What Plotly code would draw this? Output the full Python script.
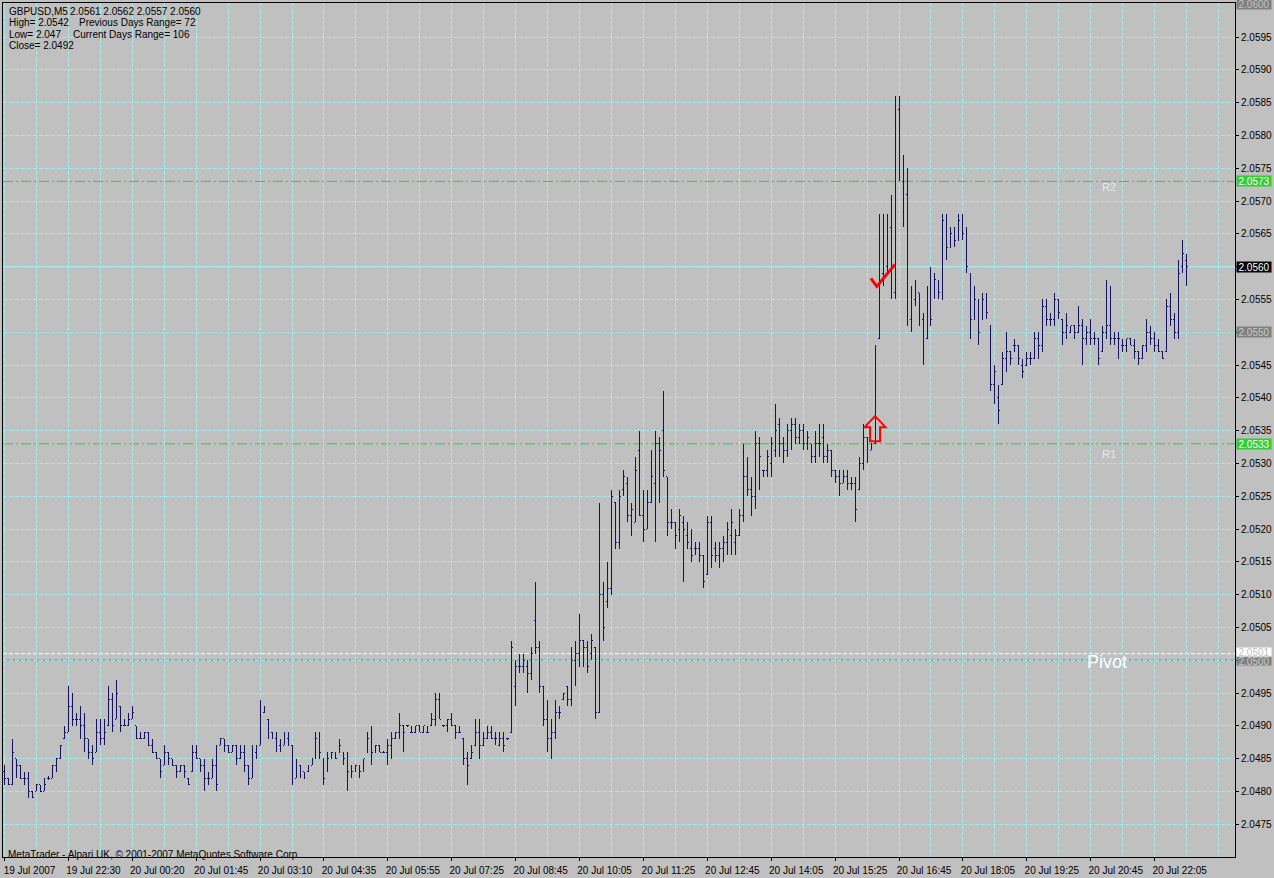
import plotly.graph_objects as go

# ---------------- data (GBPUSD, M5) ----------------
bar_high = [
    2.0484, 2.0482, 2.0488, 2.0485, 2.0484, 2.0483, 2.0483, 2.0480, 2.0481, 2.0481,
    2.0482, 2.04823, 2.0484, 2.0485, 2.0487, 2.0490, 2.0496, 2.0495, 2.0492, 2.0493,
    2.0492, 2.0488, 2.0487, 2.0491, 2.0491, 2.0491, 2.0496, 2.0495, 2.0497, 2.0493,
    2.0491, 2.0492, 2.0493, 2.0490, 2.0489, 2.0489, 2.0489, 2.0488, 2.0486, 2.0485,
    2.0487, 2.0486, 2.0485, 2.0484, 2.0484, 2.0484, 2.0482, 2.0487, 2.0487, 2.0485,
    2.0485, 2.0483, 2.0485, 2.0487, 2.0488, 2.0488, 2.0487, 2.0487, 2.0487, 2.0487,
    2.0487, 2.0484, 2.0487, 2.0487, 2.0494, 2.0493, 2.0491, 2.0489, 2.0489, 2.0488,
    2.0489, 2.0489, 2.0487, 2.0485, 2.0484, 2.0483, 2.0484, 2.0485, 2.0489, 2.0489,
    2.0485, 2.0486, 2.0486, 2.0486, 2.0488, 2.0486, 2.0486, 2.0484, 2.0484, 2.0484,
    2.0485, 2.0489, 2.0490, 2.0487, 2.0487, 2.04862, 2.0488, 2.0489, 2.0489, 2.0492,
    2.0490, 2.04902, 2.0490, 2.0490, 2.0490, 2.0490, 2.0490, 2.0492, 2.0495, 2.0495,
    2.04902, 2.0491, 2.0492, 2.0490, 2.0490, 2.0488, 2.0486, 2.0487, 2.0491, 2.0491,
    2.0489, 2.0490, 2.0490, 2.0489, 2.0489, 2.0489, 2.04882, 2.0503, 2.0500, 2.0501,
    2.0501, 2.0500, 2.0502, 2.0512, 2.0503, 2.0496, 2.0494, 2.0491, 2.0494, 2.0493,
    2.0495, 2.0496, 2.0502, 2.0503, 2.0507, 2.0503, 2.0503, 2.0504, 2.0502, 2.0524,
    2.0512, 2.0515, 2.0526, 2.0524, 2.0526, 2.0529, 2.0528, 2.0524, 2.0531, 2.0535,
    2.0526, 2.0526, 2.0532, 2.0535, 2.0534, 2.0541, 2.0528, 2.0523, 2.0521, 2.0523,
    2.0522, 2.0521, 2.0520, 2.0518, 2.0518, 2.0516, 2.0522, 2.0522, 2.0518, 2.0518,
    2.0519, 2.0521, 2.0523, 2.0520, 2.0523, 2.0533, 2.0531, 2.0528, 2.0535, 2.0534,
    2.0529, 2.0532, 2.0534, 2.0539, 2.0537, 2.0534, 2.0536, 2.0537, 2.0537, 2.0536,
    2.0536, 2.0535, 2.0533, 2.0535, 2.0536, 2.0536, 2.0533, 2.0532, 2.0529, 2.0529,
    2.0529, 2.0529, 2.0528, 2.0528, 2.0531, 2.0536, 2.0534, 2.0533, 2.0548, 2.0568,
    2.0568, 2.0568, 2.0571, 2.0586, 2.0586, 2.0577, 2.0575, 2.0557, 2.0558, 2.0556,
    2.0553, 2.0557, 2.0560, 2.0559, 2.0558, 2.0568, 2.0568, 2.0566, 2.0566, 2.0568,
    2.0568, 2.0566, 2.0559, 2.0557, 2.0555, 2.0556, 2.0556, 2.0551, 2.0545, 2.0542,
    2.0547, 2.0550, 2.0547, 2.0549, 2.0548, 2.0546, 2.0547, 2.0547, 2.0550, 2.0550,
    2.0555, 2.0555, 2.0553, 2.0556, 2.0555, 2.0552, 2.0553, 2.0551, 2.0551, 2.0554,
    2.0552, 2.0551, 2.0552, 2.0550, 2.0549, 2.0551, 2.0558, 2.0557, 2.0550, 2.0550,
    2.0549, 2.0549, 2.0549, 2.0549, 2.0547, 2.0548, 2.0552, 2.0551, 2.0550, 2.0549,
    2.0547, 2.0555, 2.0556, 2.0553, 2.0561, 2.0564, 2.0562,
]

bar_low = [
    2.0481, 2.0481, 2.0481, 2.0482, 2.0482, 2.0481, 2.0479, 2.0479, 2.0480, 2.0480,
    2.0480, 2.04818, 2.0482, 2.0483, 2.0485, 2.0488, 2.0489, 2.0490, 2.0490, 2.0488,
    2.0486, 2.0485, 2.0484, 2.0486, 2.0487, 2.0487, 2.0490, 2.0489, 2.0491, 2.0489,
    2.0490, 2.0490, 2.0491, 2.0488, 2.0488, 2.0488, 2.0487, 2.0486, 2.0485, 2.0482,
    2.0484, 2.0484, 2.0484, 2.0482, 2.0483, 2.0482, 2.0481, 2.0483, 2.0485, 2.0483,
    2.0480, 2.0481, 2.0482, 2.0480, 2.0487, 2.0486, 2.0486, 2.0486, 2.0484, 2.0485,
    2.0483, 2.0481, 2.0482, 2.0485, 2.0487, 2.0492, 2.0488, 2.0488, 2.0486, 2.0486,
    2.0487, 2.0487, 2.0481, 2.0482, 2.0482, 2.0482, 2.0483, 2.0484, 2.0485, 2.0485,
    2.0481, 2.0483, 2.0485, 2.0485, 2.0486, 2.0484, 2.0480, 2.0482, 2.0483, 2.0482,
    2.0483, 2.0486, 2.0484, 2.0486, 2.0486, 2.04858, 2.0484, 2.0485, 2.0488, 2.0488,
    2.0486, 2.04898, 2.0489, 2.0489, 2.0489, 2.0489, 2.0489, 2.0490, 2.0490, 2.0491,
    2.04898, 2.0489, 2.0490, 2.0488, 2.0489, 2.0484, 2.0481, 2.0485, 2.0487, 2.0485,
    2.0487, 2.0488, 2.0488, 2.0487, 2.0487, 2.0486, 2.04878, 2.0489, 2.0493, 2.0498,
    2.0498, 2.0495, 2.0497, 2.0501, 2.0495, 2.0490, 2.0486, 2.0485, 2.0488, 2.0491,
    2.0494, 2.0493, 2.0493, 2.0496, 2.0499, 2.0499, 2.0498, 2.0500, 2.0491, 2.0492,
    2.0503, 2.0508, 2.0510, 2.0517, 2.0517, 2.0525, 2.0521, 2.0519, 2.0521, 2.0522,
    2.0518, 2.0520, 2.0524, 2.0518, 2.0524, 2.0528, 2.0519, 2.0520, 2.0517, 2.0518,
    2.0512, 2.0517, 2.0515, 2.0516, 2.0515, 2.0511, 2.0513, 2.0514, 2.0515, 2.0514,
    2.0515, 2.0516, 2.0516, 2.0516, 2.0519, 2.0521, 2.0525, 2.0522, 2.0523, 2.0526,
    2.0528, 2.0528, 2.0528, 2.0531, 2.0531, 2.0530, 2.0531, 2.0532, 2.0533, 2.0533,
    2.0532, 2.0532, 2.0530, 2.0530, 2.0531, 2.0530, 2.0530, 2.0528, 2.0527, 2.0525,
    2.0527, 2.0526, 2.0526, 2.0521, 2.0526, 2.0529, 2.0530, 2.0532, 2.0533, 2.0549,
    2.0557, 2.0559, 2.0555, 2.0555, 2.0573, 2.0566, 2.0551, 2.0550, 2.0554, 2.0551,
    2.0545, 2.0549, 2.0551, 2.0555, 2.0555, 2.0555, 2.0561, 2.0563, 2.0563, 2.0564,
    2.0564, 2.0559, 2.0549, 2.0552, 2.0548, 2.0552, 2.0552, 2.0541, 2.0539, 2.0536,
    2.0542, 2.0544, 2.0545, 2.0547, 2.0545, 2.0543, 2.0545, 2.0545, 2.0546, 2.0546,
    2.0547, 2.0551, 2.0551, 2.0551, 2.0552, 2.0548, 2.0549, 2.0550, 2.0549, 2.0550,
    2.0545, 2.0548, 2.0548, 2.0548, 2.0545, 2.0547, 2.0549, 2.0548, 2.0548, 2.0546,
    2.0547, 2.0547, 2.0548, 2.0546, 2.0545, 2.0546, 2.0547, 2.0548, 2.0547, 2.0547,
    2.0546, 2.0547, 2.0551, 2.0549, 2.0549, 2.0559, 2.0557,
]

bar_open = [
    2.0483, 2.0482, 2.0481, 2.0485, 2.0484, 2.0482, 2.0482, 2.0480, 2.0480, 2.0481,
    2.0480, 2.0482, 2.0482, 2.0484, 2.0485, 2.0488, 2.0489, 2.0493, 2.0491, 2.0491,
    2.0490, 2.0488, 2.0486, 2.0486, 2.0489, 2.0488, 2.0490, 2.0494, 2.0491, 2.0493,
    2.0490, 2.0490, 2.0491, 2.0490, 2.0488, 2.0488, 2.0489, 2.0487, 2.0486, 2.0485,
    2.0484, 2.0486, 2.0485, 2.0484, 2.0483, 2.0484, 2.0482, 2.0483, 2.0486, 2.0485,
    2.0484, 2.0482, 2.0482, 2.0484, 2.0487, 2.0488, 2.0487, 2.0486, 2.0487, 2.0485,
    2.0486, 2.0484, 2.0482, 2.0486, 2.0487, 2.0492, 2.0491, 2.0489, 2.0488, 2.0487,
    2.0487, 2.0488, 2.0487, 2.0482, 2.0484, 2.0483, 2.0483, 2.0484, 2.0485, 2.0488,
    2.0485, 2.0483, 2.0485, 2.0486, 2.0486, 2.0486, 2.0485, 2.0483, 2.0483, 2.0484,
    2.0483, 2.0486, 2.0488, 2.0486, 2.0487, 2.0486, 2.0486, 2.0487, 2.0488, 2.0489,
    2.0490, 2.0490, 2.0489, 2.0489, 2.0490, 2.0489, 2.0489, 2.0490, 2.0491, 2.0494,
    2.0490, 2.0490, 2.0491, 2.0490, 2.0489, 2.0488, 2.0485, 2.0485, 2.0487, 2.0489,
    2.0487, 2.0488, 2.0489, 2.0488, 2.0487, 2.0488, 2.0488, 2.0489, 2.0496, 2.0499,
    2.0499, 2.0499, 2.0498, 2.0506, 2.0502, 2.0496, 2.0491, 2.0488, 2.0489, 2.0492,
    2.0494, 2.0496, 2.0494, 2.0500, 2.0501, 2.0503, 2.0502, 2.0501, 2.0502, 2.0492,
    2.0510, 2.0509, 2.0511, 2.0524, 2.0518, 2.0526, 2.0527, 2.0522, 2.0521, 2.0532,
    2.0522, 2.0520, 2.0524, 2.0527, 2.0533, 2.0535, 2.0528, 2.0521, 2.0521, 2.0520,
    2.0521, 2.0519, 2.0517, 2.0517, 2.0517, 2.0516, 2.0513, 2.0521, 2.0517, 2.0516,
    2.0517, 2.0518, 2.0519, 2.0518, 2.0519, 2.0522, 2.0528, 2.0526, 2.0525, 2.0533,
    2.0529, 2.0529, 2.0530, 2.0532, 2.0536, 2.0533, 2.0532, 2.0535, 2.0536, 2.0534,
    2.0535, 2.0533, 2.0533, 2.0531, 2.0533, 2.0534, 2.0531, 2.0532, 2.0529, 2.0528,
    2.0527, 2.0528, 2.0527, 2.0527, 2.0526, 2.0530, 2.0534, 2.0532, 2.0533, 2.0549,
    2.0559, 2.0560, 2.0566, 2.0556, 2.0584, 2.0573, 2.0571, 2.0552, 2.0555, 2.0556,
    2.0552, 2.0549, 2.0555, 2.0557, 2.0556, 2.0555, 2.0567, 2.0563, 2.0565, 2.0564,
    2.0567, 2.0565, 2.0559, 2.0552, 2.0555, 2.0552, 2.0554, 2.0551, 2.0542, 2.0540,
    2.0542, 2.0546, 2.0547, 2.0548, 2.0548, 2.0545, 2.0545, 2.0546, 2.0546, 2.0549,
    2.0548, 2.0554, 2.0552, 2.0552, 2.0555, 2.0552, 2.0550, 2.0550, 2.0551, 2.0550,
    2.0551, 2.0549, 2.0550, 2.0549, 2.0549, 2.0547, 2.0550, 2.0551, 2.0549, 2.0549,
    2.0548, 2.0548, 2.0549, 2.0548, 2.0547, 2.0546, 2.0548, 2.0550, 2.0549, 2.0548,
    2.0547, 2.0547, 2.0554, 2.0552, 2.0550, 2.0560, 2.0561,
]

bar_close = [
    2.0482, 2.0481, 2.0486, 2.0484, 2.0482, 2.0482, 2.0480, 2.0479, 2.0481, 2.0480,
    2.0481, 2.0482, 2.0484, 2.0485, 2.0487, 2.0489, 2.0493, 2.0491, 2.0491, 2.0490,
    2.0488, 2.0486, 2.0485, 2.0489, 2.0488, 2.0489, 2.0494, 2.0490, 2.0495, 2.0490,
    2.0490, 2.0491, 2.0492, 2.0488, 2.0488, 2.0489, 2.0487, 2.0486, 2.0485, 2.0483,
    2.0486, 2.0485, 2.0484, 2.0483, 2.0484, 2.0483, 2.0481, 2.0486, 2.0485, 2.0484,
    2.0482, 2.0482, 2.0484, 2.0481, 2.0488, 2.0487, 2.0486, 2.0487, 2.0485, 2.0486,
    2.0484, 2.0482, 2.0486, 2.0486, 2.0492, 2.0492, 2.0489, 2.0488, 2.0487, 2.0487,
    2.0488, 2.0487, 2.0482, 2.0484, 2.0483, 2.0482, 2.0484, 2.0485, 2.0488, 2.0486,
    2.0482, 2.0485, 2.0486, 2.0485, 2.0487, 2.0485, 2.0483, 2.0483, 2.0484, 2.0483,
    2.0485, 2.0488, 2.0486, 2.0487, 2.0486, 2.0486, 2.0487, 2.0488, 2.0489, 2.0490,
    2.0489, 2.0490, 2.0489, 2.0490, 2.0489, 2.0490, 2.0489, 2.0491, 2.0494, 2.0491,
    2.0490, 2.0491, 2.0490, 2.0489, 2.0489, 2.0485, 2.0484, 2.0486, 2.0489, 2.0487,
    2.0488, 2.0489, 2.0488, 2.0488, 2.0488, 2.0487, 2.0488, 2.0502, 2.0499, 2.0499,
    2.0500, 2.0498, 2.0501, 2.0502, 2.0496, 2.0491, 2.0488, 2.0489, 2.0492, 2.0492,
    2.0495, 2.0494, 2.0500, 2.0501, 2.0503, 2.0502, 2.0499, 2.0503, 2.0492, 2.0510,
    2.0505, 2.0511, 2.0525, 2.0518, 2.0525, 2.0528, 2.0522, 2.0523, 2.0529, 2.0522,
    2.0520, 2.0524, 2.0528, 2.0533, 2.0532, 2.0529, 2.0521, 2.0521, 2.0519, 2.0522,
    2.0520, 2.0518, 2.0516, 2.0517, 2.0516, 2.0512, 2.0521, 2.0516, 2.0516, 2.0517,
    2.0518, 2.0520, 2.0521, 2.0519, 2.0522, 2.0528, 2.0526, 2.0525, 2.0533, 2.0531,
    2.0529, 2.0531, 2.0533, 2.0535, 2.0533, 2.0532, 2.0535, 2.0536, 2.0534, 2.0535,
    2.0533, 2.0534, 2.0531, 2.0533, 2.0533, 2.0531, 2.0532, 2.0529, 2.0528, 2.0527,
    2.0528, 2.0527, 2.0527, 2.0523, 2.0530, 2.0534, 2.0531, 2.0533, 2.0548, 2.0559,
    2.0560, 2.0565, 2.0556, 2.0584, 2.0574, 2.0571, 2.0552, 2.0555, 2.0556, 2.0553,
    2.0549, 2.0555, 2.0552, 2.0558, 2.0556, 2.0567, 2.0563, 2.0565, 2.0564, 2.0567,
    2.0565, 2.0560, 2.0552, 2.0555, 2.0550, 2.0555, 2.0553, 2.0542, 2.0544, 2.0538,
    2.0546, 2.0547, 2.0546, 2.0548, 2.0546, 2.0544, 2.0546, 2.0546, 2.0549, 2.0548,
    2.0554, 2.0552, 2.0552, 2.0555, 2.0553, 2.0550, 2.0551, 2.0551, 2.0550, 2.0551,
    2.0549, 2.0550, 2.0549, 2.0549, 2.0546, 2.0550, 2.0551, 2.0549, 2.0549, 2.0549,
    2.0548, 2.0549, 2.0548, 2.0547, 2.0546, 2.0548, 2.0550, 2.0549, 2.0548, 2.0547,
    2.0546, 2.0554, 2.0552, 2.0550, 2.0559, 2.0562, 2.0560,
]

time_labels = [
    "19 Jul 2007", "19 Jul 22:30", "20 Jul 00:20", "20 Jul 01:45", "20 Jul 03:10",
    "20 Jul 04:35", "20 Jul 05:55", "20 Jul 07:25", "20 Jul 08:45", "20 Jul 10:05",
    "20 Jul 11:25", "20 Jul 12:45", "20 Jul 14:05", "20 Jul 15:25", "20 Jul 16:45",
    "20 Jul 18:05", "20 Jul 19:25", "20 Jul 20:45", "20 Jul 22:05",
]
label_every = 16   # bars between time labels
grid_every = 8     # bars between vertical grid lines

price_ticks = [
    2.0475, 2.0480, 2.0485, 2.0490, 2.0495, 2.0500, 2.0505, 2.0510, 2.0515,
    2.0520, 2.0525, 2.0530, 2.0535, 2.0540, 2.0545, 2.0550, 2.0555, 2.0560,
    2.0565, 2.0570, 2.0575, 2.0580, 2.0585, 2.0590, 2.0595,
]

level_r2 = 2.0573
level_r1 = 2.0533
level_pivot = 2.0500
level_pivot_mid = 2.0501
level_mid = 2.0550
level_bid = 2.0560
level_top = 2.0600

info_lines = [
    ("GBPUSD,M5", "2.0561 2.0562 2.0557 2.0560"),
    ("High= 2.0542", "Previous Days Range= 72"),
    ("Low= 2.047", "Current Days Range= 106"),
    ("Close= 2.0492", ""),
]

signal_bar = 218      # bar with the arrow / check mark
arrow_price = 2.05334
check_price = 2.05570

# ---------------- style ----------------
FONT = "Liberation Sans"
BG = "#c0c0c0"
GRID = "#a4ecec"
BAR = "#14145e"
W, H = 1274, 878
ML, MR, MT, MB = 2, 38, 2, 17
PW = W - ML - MR
PH = H - MT - MB

n = len(bar_close)
x_idx = list(range(n))

fig = go.Figure(go.Ohlc(
    x=x_idx, open=bar_open, high=bar_high, low=bar_low, close=bar_close,
    increasing=dict(line=dict(color=BAR, width=1)),
    decreasing=dict(line=dict(color=BAR, width=1)),
    tickwidth=0.35, hoverinfo="skip", showlegend=False,
))

tick_idx = [i * label_every for i in range(len(time_labels))]
y_text = ["" if abs(v - level_pivot) < 1e-9 or abs(v - level_mid) < 1e-9 or abs(v - level_bid) < 1e-9
          else f"{v:.4f}" for v in price_ticks]

x0 = -0.375
fig.update_layout(
    width=W, height=H,
    margin=dict(l=ML, r=MR, t=MT, b=MB, pad=0),
    paper_bgcolor=BG, plot_bgcolor=BG,
    font=dict(family=FONT, size=10, color="black"),
    showlegend=False,
    xaxis=dict(
        range=[x0, x0 + PW / 4.0],
        tickmode="array", tickvals=tick_idx, ticktext=time_labels,
        ticks="outside", ticklen=3, tickcolor="black",
        ticklabelshift=25, ticklabelstandoff=1,
        showline=True, linecolor="black", linewidth=1, mirror=True,
        showgrid=True, gridcolor=GRID, griddash="4px,2px", gridwidth=1,
        minor=dict(dtick=grid_every, tick0=0, showgrid=True, gridcolor=GRID,
                   griddash="4px,2px", gridwidth=1, ticks=""),
        zeroline=False, rangeslider=dict(visible=False),
        tickfont=dict(family=FONT, size=10, color="black"),
    ),
    yaxis=dict(
        side="right", range=[2.0470, 2.06002],
        tickmode="array", tickvals=price_ticks, ticktext=y_text,
        ticks="outside", ticklen=3, tickcolor="black",
        showline=True, linecolor="black", linewidth=1, mirror=True,
        showgrid=True, gridcolor=GRID, griddash="4px,2px", gridwidth=1,
        zeroline=False,
        tickfont=dict(family=FONT, size=10, color="black"),
    ),
)

# level lines
def hline(y, color, dash):
    fig.add_shape(type="line", xref="paper", x0=0, x1=1, yref="y", y0=y, y1=y,
                  line=dict(color=color, width=1, dash=dash), layer="between")

hline(level_r2, "#32cd32", "10px,3px,2px,3px")
hline(level_r1, "#32cd32", "10px,3px,2px,3px")
hline(level_mid, "#808080", "3px,3px")
hline(level_bid, "#bff4f4", "solid")
hline(level_pivot_mid, "#ffffff", "4px,2px")
hline(level_pivot, "#808080", "solid")

# right-axis price boxes
def price_box(y, bg, fg, h=10, shift=0):
    fig.add_annotation(xref="paper", x=1, xanchor="left", xshift=1,
                       yref="y", y=y, yanchor="middle", yshift=shift,
                       text=f"{y:.4f}", showarrow=False, bgcolor=bg,
                       font=dict(family=FONT, size=10, color=fg),
                       width=34, height=h, borderpad=0, align="center")

price_box(level_top, "#808080", "#c0c0c0")
price_box(level_r2, "#32cd32", "#ffffff")
price_box(level_bid, "#000000", "#ffffff")
price_box(level_mid, "#808080", "#c8c8c8")
price_box(level_r1, "#32cd32", "#ffffff")
price_box(level_pivot, "#808080", "#c8c8c8", h=8, shift=-1)
price_box(level_pivot_mid, "#ffffff", "#c0c0c0", h=8, shift=2)

# level names
fig.add_annotation(x=274.4, y=2.05721, xref="x", yref="y", text="R2", showarrow=False,
                   xanchor="left", yanchor="middle", font=dict(family=FONT, size=11, color="#e8e8e8"))
fig.add_annotation(x=274.4, y=2.05315, xref="x", yref="y", text="R1", showarrow=False,
                   xanchor="left", yanchor="middle", font=dict(family=FONT, size=11, color="#e8e8e8"))
fig.add_annotation(x=270.6, y=2.04997, xref="x", yref="y", text="Pivot", showarrow=False,
                   xanchor="left", yanchor="middle", font=dict(family=FONT, size=18, color="#ffffff"))

# info text (top-left)
def px_text(text, px, py, size=10):
    fig.add_annotation(xref="paper", x=0, xanchor="left", xshift=px - ML,
                       yref="paper", y=1, yanchor="middle", yshift=-(py - MT),
                       text=text, showarrow=False,
                       font=dict(family=FONT, size=size, color="black"))

rows_y = [10, 21, 33, 44]
second_x = [67, 76, 70, 70]
for (a, b), yy, bx in zip(info_lines, rows_y, second_x):
    px_text(a, 6, yy)
    if b:
        px_text(b, bx, yy)

px_text("MetaTrader - Alpari UK, © 2001-2007 MetaQuotes Software Corp.", 5, 853)

# signal arrow (hollow red up arrow) and check mark
fig.add_shape(type="path", xref="x", yref="y", xsizemode="pixel", ysizemode="pixel",
              xanchor=signal_bar, yanchor=arrow_price,
              path="M -5,0 L 5,0 L 5,14 L 10.5,14 L 0,25 L -10.5,14 L -5,14 Z",
              line=dict(color="#ff0000", width=2), fillcolor="rgba(0,0,0,0)", layer="above")
fig.add_shape(type="path", xref="x", yref="y", xsizemode="pixel", ysizemode="pixel",
              xanchor=signal_bar + 0.45, yanchor=check_price,
              path="M -6,8 L 0,0 L 18,22",
              line=dict(color="#ff0000", width=3), layer="above")

fig.write_html(
    "out.html",
    config={"displayModeBar": False},
    post_script=(
        "document.body.style.margin='0';document.body.style.overflow='hidden';"
        "document.querySelectorAll('.ohlclayer path, g.trace.ohlc path').forEach("
        "function(p){p.style.shapeRendering='crispEdges';});"
    ),
)
